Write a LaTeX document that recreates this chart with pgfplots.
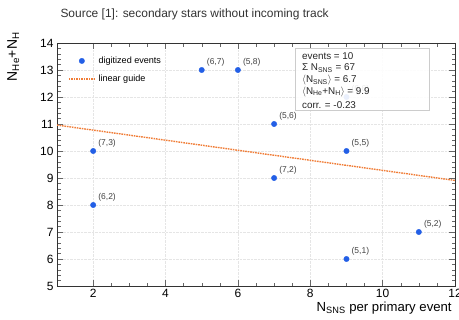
\documentclass[border=0pt]{standalone}
\usepackage{pgfplots}
\pgfplotsset{compat=1.18}
\usepackage{fontspec}
\setmainfont{Liberation Sans}
\definecolor{ptblue}{RGB}{35,95,230}
\definecolor{guide}{RGB}{240,125,55}
\pgfplotsset{
  markleg/.style={legend image code/.code={\draw[##1] plot coordinates {(13bp,0)};}},
  lineleg/.style={legend image code/.code={\draw[guide, line width=1.4bp, dash pattern=on 1.6bp off 0.9bp] (0bp,0) -- (27bp,0);}},
}
\pgfplotstableread{
x y label
2 8 (6,2)
2 10 (7,3)
5 13 (6,7)
6 13 (5,8)
7 11 (5,6)
7 9 (7,2)
9 10 (5,5)
9 6 (5,1)
11 7 (5,2)
9 12 (6,6)
}\events
\begin{document}
\begin{tikzpicture}[x=1bp,y=1bp]
\useasboundingbox (-57,-33) rectangle (402,286);
\begin{axis}[
  at={(0,0)}, anchor=south west,
  scale only axis, width=398bp, height=243bp,
  xmin=1, xmax=12, ymin=5, ymax=14,
  xtick={2,4,...,12}, ytick={5,...,14},
  minor x tick num=3, minor y tick num=4,
  tick align=inside,
  major tick length=6bp, minor tick length=3.5bp,
  axis line style={black!80, line width=0.5bp},
  every tick/.style={black!60, line width=0.4bp},
  grid=major, major grid style={densely dotted, black!10},
  tick label style={font=\fontsize{12}{12}\selectfont},
  /pgf/number format/assume math mode=true,
  title={Source [1]: secondary stars without incoming track},
  title style={at={(axis description cs:0,1.124)}, anchor=west, yshift=-8bp, font=\fontsize{12}{14}\selectfont, text=black!80},
  xlabel={N\textsubscript{SNS} per primary event},
  xlabel style={at={(axis description cs:0.992,-0.09)}, anchor=east, font=\fontsize{13.2}{16}\selectfont, inner sep=0pt},
  ylabel={N\textsubscript{He}+N\textsubscript{H}},
  ylabel style={at={(axis description cs:-0.11,1.045)}, anchor=east, font=\fontsize{14}{16}\selectfont, inner sep=0pt},
  legend style={draw=none, fill=none, at={(axis description cs:0.02,0.96)}, anchor=north west,
    font=\fontsize{9.1}{11}\selectfont, legend cell align=left, row sep=6bp},
]
\addplot[only marks, mark=*, mark size=2.7bp, ptblue, mark options={draw=ptblue, fill=ptblue},
  nodes near coords, point meta=explicit symbolic,
  every node near coord/.append style={anchor=west, inner sep=0pt, xshift=5bp, yshift=8bp,
    font=\fontsize{8.5}{8.5}\selectfont, text=black!75},
  markleg]
  table[x=x, y=y, meta=label] {\events};
\addlegendentry{digitized events}
\addplot[guide, line width=1.4bp, dash pattern=on 1.6bp off 0.9bp, no marks, lineleg]
  coordinates {(1,10.96) (12,8.91)};
\addlegendentry{linear guide}
\coordinate (boxbl) at (axis cs:7.58,11.52);
\coordinate (boxtr) at (axis cs:11.28,13.81);
\coordinate (boxtx) at (axis cs:7.77,13.66);
\end{axis}
\fill[white, fill opacity=0.9] (boxbl) rectangle (boxtr);
\draw[black!20, line width=0.5bp] (boxbl) rectangle (boxtr);
\node[anchor=north west, align=left, inner sep=0pt, font=\fontsize{9.9}{11.7}\selectfont, text=black!85]
  at (boxtx) {events = 10\\ Σ N\textsubscript{SNS} = 67\\ $\langle$N\textsubscript{SNS}$\rangle$ = 6.7\\ $\langle$N\textsubscript{He}+N\textsubscript{H}$\rangle$ = 9.9\\[2.5bp] corr. = -0.23};
\end{tikzpicture}
\end{document}
